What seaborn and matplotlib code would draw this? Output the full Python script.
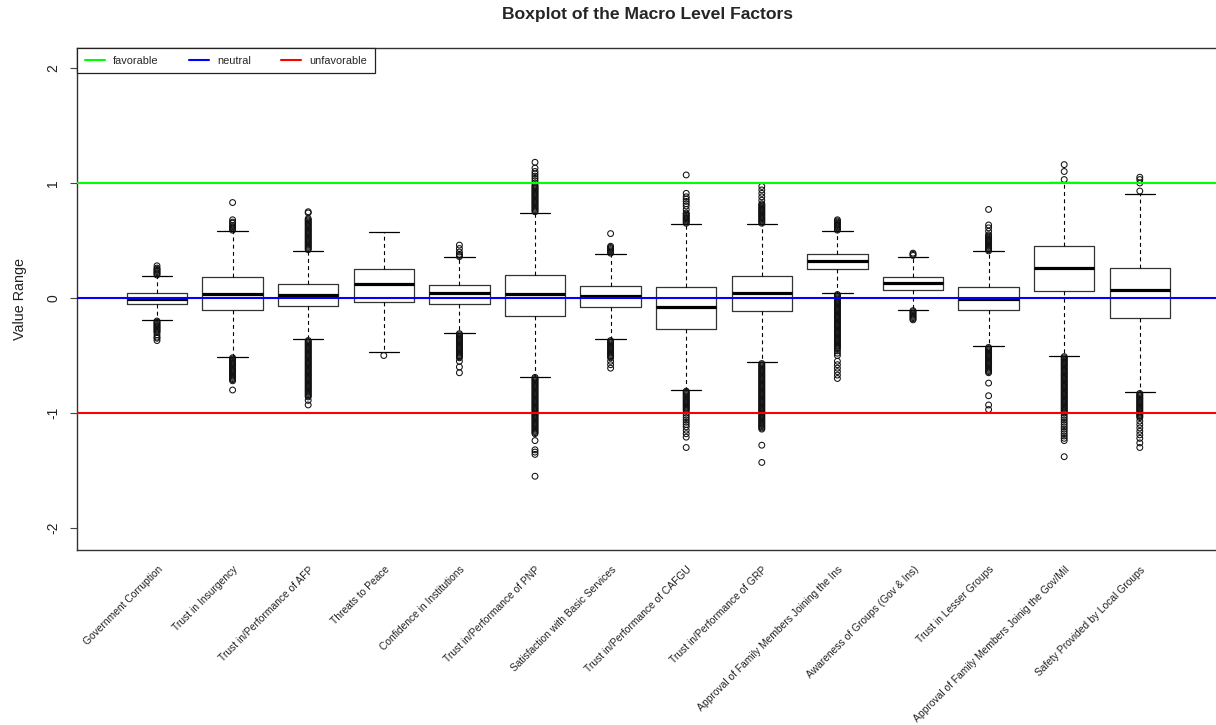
import matplotlib
matplotlib.use("Agg")
import matplotlib.pyplot as plt
import matplotlib.transforms as mtransforms
from matplotlib.lines import Line2D
import pandas as pd
import seaborn as sns

# ---- data -------------------------------------------------------------
categories = [
    "Government Corruption",
    "Trust in Insurgency",
    "Trust in/Performance of AFP",
    "Threats to Peace",
    "Confidence in Institutions",
    "Trust in/Performance of PNP",
    "Satisfaction with Basic Services",
    "Trust in/Performance of CAFGU",
    "Trust in/Performance of GRP",
    "Approval of Family Members Joining the Ins",
    "Awareness of Groups (Gov & Ins)",
    "Trust in Lesser Groups",
    "Approval of Family Members Joinig the Gov/Mil",
    "Safety Provided by Local Groups",
]

q1 = [-0.055, -0.10, -0.07, -0.037, -0.055, -0.154, -0.078, -0.267, -0.11, 0.25, 0.067, -0.107, 0.064, -0.171]
medians = [-0.005, 0.035, 0.026, 0.12, 0.043, 0.035, 0.017, -0.075, 0.043, 0.32, 0.128, -0.006, 0.264, 0.072]
q3 = [0.04, 0.18, 0.12, 0.25, 0.113, 0.20, 0.104, 0.10, 0.19, 0.38, 0.183, 0.10, 0.452, 0.258]
whisker_low = [-0.19, -0.51, -0.36, -0.47, -0.30, -0.684, -0.36, -0.80, -0.56, 0.04, -0.107, -0.42, -0.50, -0.82]
whisker_high = [0.19, 0.585, 0.405, 0.57, 0.356, 0.74, 0.38, 0.64, 0.64, 0.585, 0.356, 0.406, 1.011, 0.904]

# observations beyond the upper whisker, one list per factor
outliers_high = [
    [0.20, 0.21, 0.22, 0.23, 0.24, 0.25, 0.26, 0.28],
    [0.59, 0.60, 0.61, 0.62, 0.63, 0.65, 0.66, 0.68, 0.83],
    [0.42, 0.43, 0.44, 0.45, 0.46, 0.47, 0.48, 0.49, 0.50, 0.51, 0.52, 0.53, 0.54, 0.55, 0.56,
     0.57, 0.58, 0.59, 0.60, 0.61, 0.62, 0.63, 0.64, 0.65, 0.66, 0.67, 0.68, 0.69, 0.74, 0.75],
    [],
    [0.36, 0.37, 0.38, 0.40, 0.43, 0.46],
    [0.75, 0.76, 0.77, 0.78, 0.79, 0.80, 0.81, 0.82, 0.83, 0.84, 0.85, 0.86, 0.87, 0.88, 0.89,
     0.90, 0.91, 0.92, 0.93, 0.94, 0.95, 0.96, 0.97, 0.98, 1.00, 1.02, 1.04, 1.06, 1.08, 1.10,
     1.13, 1.18],
    [0.39, 0.40, 0.41, 0.42, 0.43, 0.44, 0.45, 0.56],
    [0.65, 0.66, 0.67, 0.68, 0.69, 0.70, 0.71, 0.72, 0.73, 0.74, 0.77, 0.80, 0.82, 0.84, 0.86,
     0.88, 0.91, 1.07],
    [0.65, 0.66, 0.67, 0.68, 0.69, 0.70, 0.71, 0.72, 0.73, 0.74, 0.75, 0.76, 0.77, 0.78, 0.79,
     0.80, 0.81, 0.82, 0.85, 0.88, 0.91, 0.94, 0.97],
    [0.59, 0.60, 0.61, 0.62, 0.63, 0.64, 0.65, 0.66, 0.67, 0.68],
    [0.37, 0.38, 0.39],
    [0.41, 0.42, 0.43, 0.44, 0.45, 0.46, 0.47, 0.48, 0.49, 0.50, 0.51, 0.52, 0.53, 0.54, 0.55,
     0.58, 0.61, 0.635, 0.77],
    [1.03, 1.10, 1.16],
    [0.93, 1.00, 1.03, 1.05],
]

# observations beyond the lower whisker, one list per factor
outliers_low = [
    [-0.20, -0.21, -0.22, -0.23, -0.24, -0.25, -0.26, -0.27, -0.28, -0.29, -0.30, -0.32, -0.34,
     -0.35, -0.37],
    [-0.52, -0.53, -0.54, -0.55, -0.56, -0.57, -0.58, -0.59, -0.60, -0.61, -0.62, -0.63, -0.64,
     -0.65, -0.66, -0.67, -0.68, -0.69, -0.70, -0.71, -0.72, -0.80],
    [-0.37, -0.38, -0.39, -0.40, -0.41, -0.42, -0.43, -0.44, -0.45, -0.46, -0.47, -0.48, -0.49,
     -0.50, -0.51, -0.52, -0.53, -0.54, -0.55, -0.56, -0.57, -0.58, -0.59, -0.60, -0.61, -0.62,
     -0.63, -0.64, -0.65, -0.66, -0.67, -0.68, -0.69, -0.70, -0.71, -0.72, -0.73, -0.74, -0.75,
     -0.76, -0.77, -0.78, -0.79, -0.80, -0.81, -0.82, -0.83, -0.84, -0.85, -0.86, -0.89, -0.93],
    [-0.50],
    [-0.31, -0.32, -0.33, -0.34, -0.35, -0.36, -0.37, -0.38, -0.39, -0.40, -0.41, -0.42, -0.43,
     -0.44, -0.45, -0.46, -0.47, -0.48, -0.49, -0.50, -0.51, -0.52, -0.55, -0.60, -0.65],
    [-0.69, -0.70, -0.71, -0.72, -0.73, -0.74, -0.75, -0.76, -0.77, -0.78, -0.79, -0.80, -0.81,
     -0.82, -0.83, -0.84, -0.85, -0.86, -0.87, -0.88, -0.89, -0.90, -0.91, -0.92, -0.93, -0.94,
     -0.95, -0.96, -0.97, -0.98, -0.99, -1.00, -1.01, -1.02, -1.03, -1.04, -1.05, -1.06, -1.07,
     -1.08, -1.09, -1.10, -1.11, -1.12, -1.13, -1.14, -1.15, -1.16, -1.17, -1.18, -1.24, -1.32,
     -1.34, -1.36, -1.55],
    [-0.37, -0.38, -0.39, -0.40, -0.41, -0.42, -0.43, -0.44, -0.45, -0.46, -0.47, -0.48, -0.49,
     -0.50, -0.51, -0.52, -0.55, -0.58, -0.61],
    [-0.81, -0.82, -0.83, -0.84, -0.85, -0.86, -0.87, -0.88, -0.89, -0.90, -0.91, -0.92, -0.93,
     -0.94, -0.95, -0.96, -0.97, -0.98, -1.00, -1.02, -1.04, -1.06, -1.08, -1.10, -1.12, -1.15,
     -1.18, -1.21, -1.30],
    [-0.57, -0.58, -0.59, -0.60, -0.61, -0.62, -0.63, -0.64, -0.65, -0.66, -0.67, -0.68, -0.69,
     -0.70, -0.71, -0.72, -0.73, -0.74, -0.75, -0.76, -0.77, -0.78, -0.79, -0.80, -0.81, -0.82,
     -0.83, -0.84, -0.85, -0.86, -0.87, -0.88, -0.89, -0.90, -0.91, -0.92, -0.93, -0.94, -0.95,
     -0.96, -0.97, -0.98, -0.99, -1.00, -1.01, -1.02, -1.03, -1.04, -1.05, -1.06, -1.07, -1.08,
     -1.09, -1.10, -1.11, -1.12, -1.13, -1.14, -1.28, -1.43],
    [0.03, 0.02, 0.01, 0.00, -0.01, -0.02, -0.03, -0.04, -0.05, -0.06, -0.07, -0.08, -0.09,
     -0.10, -0.11, -0.12, -0.13, -0.14, -0.15, -0.16, -0.17, -0.18, -0.19, -0.20, -0.21, -0.22,
     -0.23, -0.24, -0.25, -0.26, -0.27, -0.28, -0.29, -0.30, -0.31, -0.32, -0.33, -0.34, -0.35,
     -0.36, -0.37, -0.38, -0.39, -0.40, -0.41, -0.42, -0.43, -0.44, -0.46, -0.48, -0.50, -0.55,
     -0.58, -0.61, -0.64, -0.67, -0.70],
    [-0.11, -0.12, -0.13, -0.14, -0.15, -0.16, -0.17, -0.18, -0.19],
    [-0.43, -0.44, -0.45, -0.46, -0.47, -0.48, -0.49, -0.50, -0.51, -0.52, -0.53, -0.54, -0.55,
     -0.56, -0.57, -0.58, -0.59, -0.60, -0.61, -0.62, -0.63, -0.64, -0.65, -0.74, -0.85, -0.93,
     -0.97],
    [-0.51, -0.52, -0.53, -0.54, -0.55, -0.56, -0.57, -0.58, -0.59, -0.60, -0.61, -0.62, -0.63,
     -0.64, -0.65, -0.66, -0.67, -0.68, -0.69, -0.70, -0.71, -0.72, -0.73, -0.74, -0.75, -0.76,
     -0.77, -0.78, -0.79, -0.80, -0.81, -0.82, -0.83, -0.84, -0.85, -0.86, -0.87, -0.88, -0.89,
     -0.90, -0.91, -0.92, -0.93, -0.94, -0.95, -0.96, -0.97, -0.98, -0.99, -1.00, -1.02, -1.04,
     -1.06, -1.08, -1.10, -1.12, -1.14, -1.16, -1.18, -1.20, -1.22, -1.24, -1.38],
    [-0.83, -0.84, -0.85, -0.86, -0.87, -0.88, -0.89, -0.90, -0.91, -0.92, -0.93, -0.94, -0.95,
     -0.96, -0.97, -0.98, -0.99, -1.00, -1.01, -1.02, -1.03, -1.04, -1.07, -1.10, -1.13, -1.16,
     -1.19, -1.22, -1.26, -1.30],
]

reference_levels = [1, 0, -1]
reference_labels = ["favorable", "neutral", "unfavorable"]
reference_colors = ["#00ff00", "#0000ff", "#ff0000"]
y_ticks = [-2, -1, 0, 1, 2]

# ---- style ------------------------------------------------------------
sns.set_style("ticks")
plt.rcParams["font.family"] = ["Liberation Sans", "DejaVu Sans"]

W, H = 1216, 725
fig = plt.figure(figsize=(W / 100, H / 100), dpi=100)
left_px, right_px, top_px, bottom_px = 77, 1218, 48, 550
ax = fig.add_axes([left_px / W, 1 - bottom_px / H,
                   (right_px - left_px) / W, (bottom_px - top_px) / H])

# ---- outlying points (seaborn strip plot) -----------------------------
rows = []
for cat, hi, lo in zip(categories, outliers_high, outliers_low):
    for v in hi + lo:
        rows.append({"factor": cat, "value": v})
flier_df = pd.DataFrame(rows)

sns.stripplot(data=flier_df, x="factor", y="value", order=categories,
              jitter=False, color="black", size=4.2, linewidth=0.75,
              edgecolor="black", ax=ax, zorder=3)
for coll in ax.collections:
    coll.set_facecolor("none")
    coll.set_edgecolor("#111111")
    coll.set_linewidth(0.75)

# ---- boxes ------------------------------------------------------------
stats = []
for cat, a, m, b, lo, hi in zip(categories, q1, medians, q3, whisker_low, whisker_high):
    stats.append({"label": cat, "q1": a, "med": m, "q3": b,
                  "whislo": lo, "whishi": hi, "fliers": []})

positions = list(range(len(categories)))
ax.bxp(stats, positions=positions, widths=0.8, capwidths=0.4,
       showfliers=False, manage_ticks=False,
       boxprops=dict(color="#333333", linewidth=0.9),
       medianprops=dict(color="black", linewidth=2.3, solid_capstyle="butt"),
       whiskerprops=dict(color="black", linewidth=0.8, linestyle=(0, (3.5, 3))),
       capprops=dict(color="black", linewidth=0.9))

# ---- reference lines --------------------------------------------------
for lvl, col in zip(reference_levels, reference_colors):
    ax.axhline(lvl, color=col, linewidth=1.5, zorder=5)

# ---- axes -------------------------------------------------------------
spacing_px = 75.6
first_px = 157
ax.set_xlim(-(first_px - left_px) / spacing_px,
            (right_px - first_px) / spacing_px)
ax.set_ylim(-2 - 22 / 115, 2 + 20 / 115)

ax.set_yticks(y_ticks)
ax.set_yticklabels([str(t) for t in y_ticks])
ax.tick_params(axis="y", labelrotation=90, length=5, width=0.8,
               color="#444444", labelsize=10, pad=7, labelcolor="#222222")
for lab in ax.get_yticklabels():
    lab.set_va("center")

ax.set_xticks(positions)
ax.set_xticklabels(categories, rotation=45, ha="right", va="center",
                   rotation_mode="anchor", fontsize=7.4)
ax.tick_params(axis="x", length=0, pad=13, labelcolor="#222222")
shift = mtransforms.ScaledTranslation(4 / 100, 0, fig.dpi_scale_trans)
for lab in ax.get_xticklabels():
    lab.set_transform(lab.get_transform() + shift)

ax.set_xlabel("")
ax.set_ylabel("Value Range", fontsize=10.4, color="#222222")
ax.yaxis.set_label_coords(-(77 - 27) / (right_px - left_px), 0.5)

for side in ["left", "top", "bottom"]:
    ax.spines[side].set_visible(True)
    ax.spines[side].set_color("#333333")
    ax.spines[side].set_linewidth(1.0)
ax.spines["right"].set_visible(False)

ax.set_title("Boxplot of the Macro Level Factors", fontsize=12.6,
             fontweight="bold", pad=21)

# ---- legend -----------------------------------------------------------
handles = [Line2D([0], [0], color=c, linewidth=1.5) for c in reference_colors]
leg = ax.legend(handles, reference_labels, loc="upper left",
                bbox_to_anchor=(0, 1), borderaxespad=0, ncol=3,
                fontsize=7.9, handlelength=1.85, handletextpad=0.73,
                columnspacing=2.75, borderpad=0.7, fancybox=False,
                framealpha=1, edgecolor="#222222")
leg.get_frame().set_linewidth(0.9)
leg.set_zorder(10)

fig.savefig("out.png", dpi=100)
